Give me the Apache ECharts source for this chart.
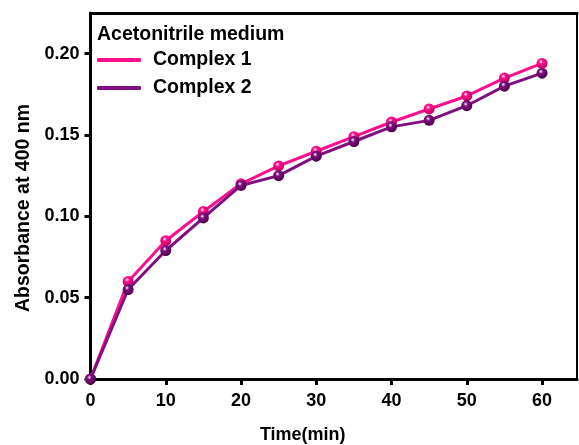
<!DOCTYPE html>
<html>
<head>
<meta charset="utf-8">
<script src="https://cdn.jsdelivr.net/npm/echarts@6/dist/echarts.min.js"></script>
<style>
  html, body { margin: 0; padding: 0; background: #ffffff; }
  #chart { width: 579px; height: 445px; }
</style>
</head>
<body>
<div id="chart"></div>
<script>
// Absorbance at 400 nm over time, two complexes in acetonitrile
const times = [0, 5, 10, 15, 20, 25, 30, 35, 40, 45, 50, 55, 60];
const complex1 = [0, 0.060, 0.085, 0.103, 0.120, 0.131, 0.140, 0.149, 0.158, 0.166, 0.174, 0.185, 0.194];
const complex2 = [0, 0.055, 0.079, 0.099, 0.119, 0.125, 0.137, 0.146, 0.155, 0.159, 0.168, 0.180, 0.188];
const xTicks = [0, 10, 20, 30, 40, 50, 60];
const yTicks = [0, 0.05, 0.10, 0.15, 0.20];
const seriesNames = ['Complex 1', 'Complex 2'];
const legendTitle = 'Acetonitrile medium';

const FONT = '"Liberation Sans", Arial, sans-serif';
const PINK = '#ff0f8f';
const PURPLE = '#80107f';

function sphere(base, dark) {
  return {
    type: 'radial', x: 0.4, y: 0.35, r: 0.65,
    colorStops: [
      { offset: 0, color: '#ffffff' },
      { offset: 0.3, color: base },
      { offset: 1, color: dark }
    ]
  };
}

function pairs(ys) { return times.map((t, i) => [t, ys[i]]); }

const chart = echarts.init(document.getElementById('chart'), null, { renderer: 'canvas' });

chart.setOption({
  backgroundColor: '#ffffff',
  animation: false,
  title: {
    text: legendTitle,
    left: 97, top: 25, padding: 0,
    textStyle: { fontFamily: FONT, fontWeight: 'bold', fontSize: 19.5, color: '#000' }
  },
  legend: {
    orient: 'vertical',
    left: 97, top: 50, padding: 0,
    itemWidth: 44, itemHeight: 4, itemGap: 8,
    icon: 'roundRect',
    textStyle: { fontFamily: FONT, fontWeight: 'bold', fontSize: 19.5, color: '#000', padding: [0, 0, 0, 7] },
    data: [
      { name: seriesNames[0], itemStyle: { color: PINK } },
      { name: seriesNames[1], itemStyle: { color: PURPLE } }
    ]
  },
  grid: { left: 90.5, right: 2, top: 13, bottom: 66, show: false, containLabel: false, outerBoundsMode: 'none' },
  xAxis: [{
    type: 'value', min: 0, max: 64.65,
    name: 'Time(min)', nameLocation: 'middle', nameGap: 47,
    nameTextStyle: { fontFamily: FONT, fontWeight: 'bold', fontSize: 18, color: '#000', padding: [0, 62, 0, 0] },
    axisLine: { onZero: false, lineStyle: { color: '#000', width: 3 } },
    axisTick: { show: true, length: 6, lineStyle: { width: 3, color: '#000' }, customValues: xTicks },
    axisLabel: { fontFamily: FONT, fontWeight: 'bold', fontSize: 18, color: '#000', margin: 13, customValues: xTicks },
    splitLine: { show: false }
  }, {
    type: 'value', position: 'top', min: 0, max: 64.65,
    axisLine: { onZero: false, lineStyle: { color: '#000', width: 3 } },
    axisTick: { show: false }, axisLabel: { show: false }, splitLine: { show: false }
  }],
  yAxis: [{
    type: 'value', min: 0, max: 0.225,
    name: 'Absorbance at 400 nm', nameLocation: 'middle', nameGap: 57,
    nameTextStyle: { fontFamily: FONT, fontWeight: 'bold', fontSize: 19.5, color: '#000', padding: [0, 24, 0, 0] },
    axisLine: { onZero: false, lineStyle: { color: '#000', width: 3 } },
    axisTick: { show: true, length: 6, lineStyle: { width: 3, color: '#000' }, customValues: yTicks },
    axisLabel: { fontFamily: FONT, fontWeight: 'bold', fontSize: 18, color: '#000', margin: 11,
      customValues: yTicks, formatter: v => v.toFixed(2) },
    splitLine: { show: false }
  }, {
    type: 'value', position: 'right', min: 0, max: 0.225,
    axisLine: { onZero: false, lineStyle: { color: '#000', width: 2 } },
    axisTick: { show: false }, axisLabel: { show: false }, splitLine: { show: false }
  }],
  series: [{
    name: seriesNames[0], type: 'line', data: pairs(complex1),
    symbol: 'circle', symbolSize: 11,
    lineStyle: { color: PINK, width: 3 },
    itemStyle: { color: sphere(PINK, '#c0005e') },
    z: 3
  }, {
    name: seriesNames[1], type: 'line', data: pairs(complex2),
    symbol: 'circle', symbolSize: 11,
    lineStyle: { color: PURPLE, width: 3 },
    itemStyle: { color: sphere(PURPLE, '#4a0048') },
    z: 4
  }]
});
</script>
</body>
</html>
